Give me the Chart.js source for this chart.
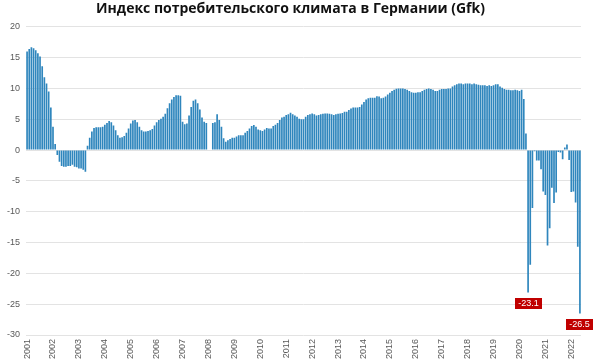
<!DOCTYPE html>
<html><head><meta charset="utf-8">
<script src="https://cdn.jsdelivr.net/npm/chart.js@4/dist/chart.umd.min.js"></script>
<style>html,body{margin:0;padding:0;background:#fff}#wrap{width:596px;height:364px;position:relative}</style>
</head><body><div id="wrap"><canvas id="c" width="596" height="364"></canvas></div>
<script>
const chartTitle = 'Индекс потребительского климата в Германии (Gfk)';
const years = ['2001','2002','2003','2004','2005','2006','2007','2008','2009','2010','2011','2012','2013','2014','2015','2016','2017','2018','2019','2020','2021','2022'];
const v2001 = [16.0, 16.4, 16.7, 16.5, 16.2, 15.7, 15.2, 13.6, 11.8, 10.8, 9.5, 6.9];
const v2002 = [3.8, 1.0, -0.8, -1.9, -2.6, -2.7, -2.7, -2.6, -2.6, -2.4, -2.7, -2.8];
const v2003 = [-3.0, -3.0, -3.2, -3.5, 0.7, 2.0, 3.0, 3.6, 3.7, 3.7, 3.7, 3.8];
const v2004 = [4.1, 4.4, 4.7, 4.5, 4.0, 3.2, 2.4, 2.0, 2.1, 2.3, 2.8, 3.5];
const v2005 = [4.3, 4.8, 4.9, 4.5, 3.8, 3.2, 3.0, 3.0, 3.1, 3.2, 3.4, 4.0];
const v2006 = [4.5, 4.9, 5.1, 5.4, 5.9, 6.8, 7.6, 8.2, 8.6, 8.9, 8.9, 8.8];
const v2007 = [4.6, 4.2, 4.3, 5.6, 7.0, 8.0, 8.2, 7.6, 6.6, 5.3, 4.6, 4.4];
const v2008 = [null, null, 4.4, 4.5, 5.8, 4.9, 3.8, 1.9, 1.35, 1.6, 1.8, 2.0];
const v2009 = [2.0, 2.2, 2.4, 2.4, 2.4, 2.8, 3.1, 3.5, 3.9, 4.05, 3.8, 3.35];
const v2010 = [3.2, 3.1, 3.35, 3.6, 3.5, 3.5, 3.9, 4.1, 4.4, 4.9, 5.3, 5.4];
const v2011 = [5.7, 5.8, 6.05, 5.8, 5.6, 5.4, 5.1, 5.0, 5.0, 5.4, 5.7, 5.8];
const v2012 = [5.95, 5.8, 5.6, 5.7, 5.8, 5.9, 5.95, 5.95, 5.9, 5.8, 5.7, 5.8];
const v2013 = [5.9, 5.95, 6.0, 6.2, 6.2, 6.5, 6.75, 6.9, 6.9, 6.9, 7.0, 7.4];
const v2014 = [7.8, 8.2, 8.4, 8.5, 8.5, 8.5, 8.75, 8.7, 8.4, 8.5, 8.7, 9.0];
const v2015 = [9.3, 9.6, 9.8, 9.95, 10.0, 10.0, 10.0, 9.9, 9.8, 9.6, 9.4, 9.3];
const v2016 = [9.3, 9.4, 9.4, 9.6, 9.8, 9.9, 10.0, 9.9, 9.8, 9.6, 9.6, 9.8];
const v2017 = [9.9, 9.9, 9.9, 10.0, 10.0, 10.3, 10.5, 10.7, 10.8, 10.8, 10.7, 10.8];
const v2018 = [10.8, 10.8, 10.7, 10.8, 10.7, 10.6, 10.5, 10.5, 10.5, 10.4, 10.5, 10.4];
const v2019 = [10.5, 10.7, 10.7, 10.3, 10.1, 9.9, 9.8, 9.8, 9.7, 9.7, 9.8, 9.7];
const v2020 = [9.6, 9.8, 8.3, 2.7, -23.1, -18.6, -9.4, -0.2, -1.7, -1.7, -3.1, -6.7];
const v2021 = [-7.3, -15.5, -12.7, -6.1, -8.6, -6.9, -0.3, -0.4, -1.5, 0.4, 0.9, -1.6];
const v2022 = [-6.8, -6.7, -8.5, -15.7, -26.5];
const labelledValues = [-23.1, -26.5];
const yTicks = [-30, -25, -20, -15, -10, -5, 0, 5, 10, 15, 20];

const yearly = [v2001,v2002,v2003,v2004,v2005,v2006,v2007,v2008,v2009,v2010,v2011,v2012,v2013,v2014,v2015,v2016,v2017,v2018,v2019,v2020,v2021,v2022];
const labels = [], values = [];
yearly.forEach((arr, yi) => arr.forEach((v, m) => { labels.push(years[yi] + '-' + String(m + 1).padStart(2, '0')); values.push(v); }));

const calloutPlugin = {
  id: 'callouts',
  afterDatasetsDraw(chart) {
    const ctx = chart.ctx, meta = chart.getDatasetMeta(0), data = chart.data.datasets[0].data;
    ctx.save();
    ctx.font = '9px "Liberation Sans", Arial, sans-serif';
    meta.data.forEach((bar, i) => {
      if (!labelledValues.includes(data[i])) return;
      const txt = data[i].toFixed(1);
      const w = Math.round(ctx.measureText(txt).width + 6), h = 11;
      const x = Math.round(bar.x - w / 2), y = Math.round(bar.y + 6);
      ctx.fillStyle = '#c00000';
      ctx.fillRect(x, y, w, h);
      ctx.fillStyle = '#ffffff';
      ctx.textAlign = 'center';
      ctx.textBaseline = 'middle';
      ctx.fillText(txt, x + w / 2, y + h / 2 + 0.5);
    });
    ctx.restore();
  }
};

new Chart(document.getElementById('c'), {
  type: 'bar',
  data: { labels, datasets: [{ data: values, backgroundColor: '#2f86bd', borderWidth: 0, barPercentage: 0.78, categoryPercentage: 1.0 }] },
  options: {
    responsive: false, animation: false, devicePixelRatio: 1,
    layout: { padding: { left: 0, right: 15, top: 0, bottom: 0 } },
    plugins: {
      legend: { display: false }, tooltip: { enabled: false },
      title: { display: true, text: chartTitle, color: '#111', font: { family: 'Open Sans', size: 14, weight: 'bold' }, padding: { top: 1, bottom: 9 } }
    },
    scales: {
      x: {
        offset: true,
        grid: { display: false, drawTicks: false }, border: { display: false },
        ticks: { autoSkip: false, maxRotation: 90, minRotation: 90, padding: 4, color: '#595959',
          font: { family: 'Liberation Sans', size: 9 },
          callback: (v, i) => (i % 12 === 0 ? years[i / 12] : null) },
        afterFit(s) { s.height = 29; }
      },
      y: {
        min: yTicks[0], max: yTicks[yTicks.length - 1],
        afterBuildTicks(s) { s.ticks = yTicks.map(v => ({ value: v })); },
        grid: { color: '#e3e3e3', drawTicks: false }, border: { display: false },
        ticks: { padding: 6, color: '#595959', font: { family: 'Liberation Sans', size: 9 } },
        afterFit(s) { s.width = 26; }
      }
    }
  },
  plugins: [calloutPlugin]
});
</script></body></html>
